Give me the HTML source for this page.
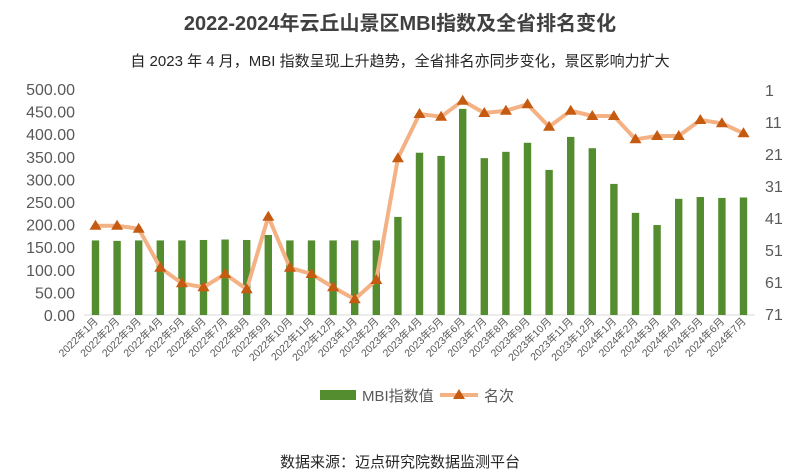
<!DOCTYPE html>
<html><head><meta charset="utf-8"><style>
body{margin:0;background:#fff}
svg{display:block;font-family:"Liberation Sans","Noto Sans CJK SC",sans-serif}
</style></head><body>
<svg width="800" height="476" viewBox="0 0 800 476">
<text x="400" y="30" text-anchor="middle" font-size="20" font-weight="bold" fill="#404040">2022-2024年云丘山景区MBI指数及全省排名变化</text>
<text x="400" y="66" text-anchor="middle" font-size="15" fill="#262626">自 2023 年 4 月，MBI 指数呈现上升趋势，全省排名亦同步变化，景区影响力扩大</text>
<g font-size="16" fill="#595959" text-anchor="end" id="ly"></g>
<g font-size="16" fill="#595959" id="ry"></g>
<line x1="84" y1="315" x2="755" y2="315" stroke="#d9d9d9" stroke-width="1"/>
<g id="bars" fill="#548d30"></g>
<polyline id="ln" fill="none" stroke="#f4b183" stroke-width="4" stroke-linejoin="round"/>
<g id="tri" fill="#c55a11"></g>
<g id="xl" font-size="10.5" fill="#595959"></g>
<rect x="320" y="390" width="36" height="10" fill="#548d30"/>
<text x="362" y="401" font-size="15" fill="#595959">MBI指数值</text>
<line x1="440" y1="395" x2="478" y2="395" stroke="#f4b183" stroke-width="4"/>
<path d="M459 389 L465 399 L453 399 Z" fill="#c55a11"/>
<text x="484" y="401" font-size="15" fill="#595959">名次</text>
<text x="400" y="467" text-anchor="middle" font-size="15" fill="#262626">数据来源：迈点研究院数据监测平台</text>
</svg>
<script>
var NS="http://www.w3.org/2000/svg";
function el(p,t,a,txt){var e=document.createElementNS(NS,t);for(var k in a)e.setAttribute(k,a[k]);if(txt!=null)e.textContent=txt;document.getElementById(p).appendChild(e);}
for(var k=0;k<=10;k++){el("ly","text",{x:75,y:315-22.6*k+6},(50*k).toFixed(2));}
for(var k=0;k<8;k++){el("ry","text",{x:765,y:90+32*k+6},String(1+10*k));}
var b=[165,164,165,165,165,166,167,166,177,165,165,165,165,165,217,359,352,456,347,361,381,321,394,369,290,226,199,257,261,259,260];
var l=[225.7,225.7,228.7,267.7,283.3,287.3,274,289.3,216.7,267.7,274,287.3,299.3,280,158.3,114,116.7,100.7,113,110.7,104.3,126.7,110.7,116,116,139.3,136,136,120,123.3,133.3];
var pts=[];
var labs=[];
for(var y=2022;y<=2024;y++)for(var m=1;m<=12;m++){if(y==2024&&m>7)break;labs.push(y+"年"+m+"月");}
for(var i=0;i<31;i++){var cx=95.5+21.6*i;var h=b[i]*0.452;
el("bars","rect",{x:cx-3.7,y:315-h,width:7.4,height:h});
pts.push(cx+","+l[i]);
el("tri","path",{d:"M"+cx+" "+(l[i]-6)+" L"+(cx+6)+" "+(l[i]+4)+" L"+(cx-6)+" "+(l[i]+4)+" Z"});
el("xl","text",{x:0,y:0,"text-anchor":"end",transform:"translate("+(cx+3)+",322) rotate(-45)"},labs[i]);
}
document.getElementById("ln").setAttribute("points",pts.join(" "));
</script>
</body></html>
